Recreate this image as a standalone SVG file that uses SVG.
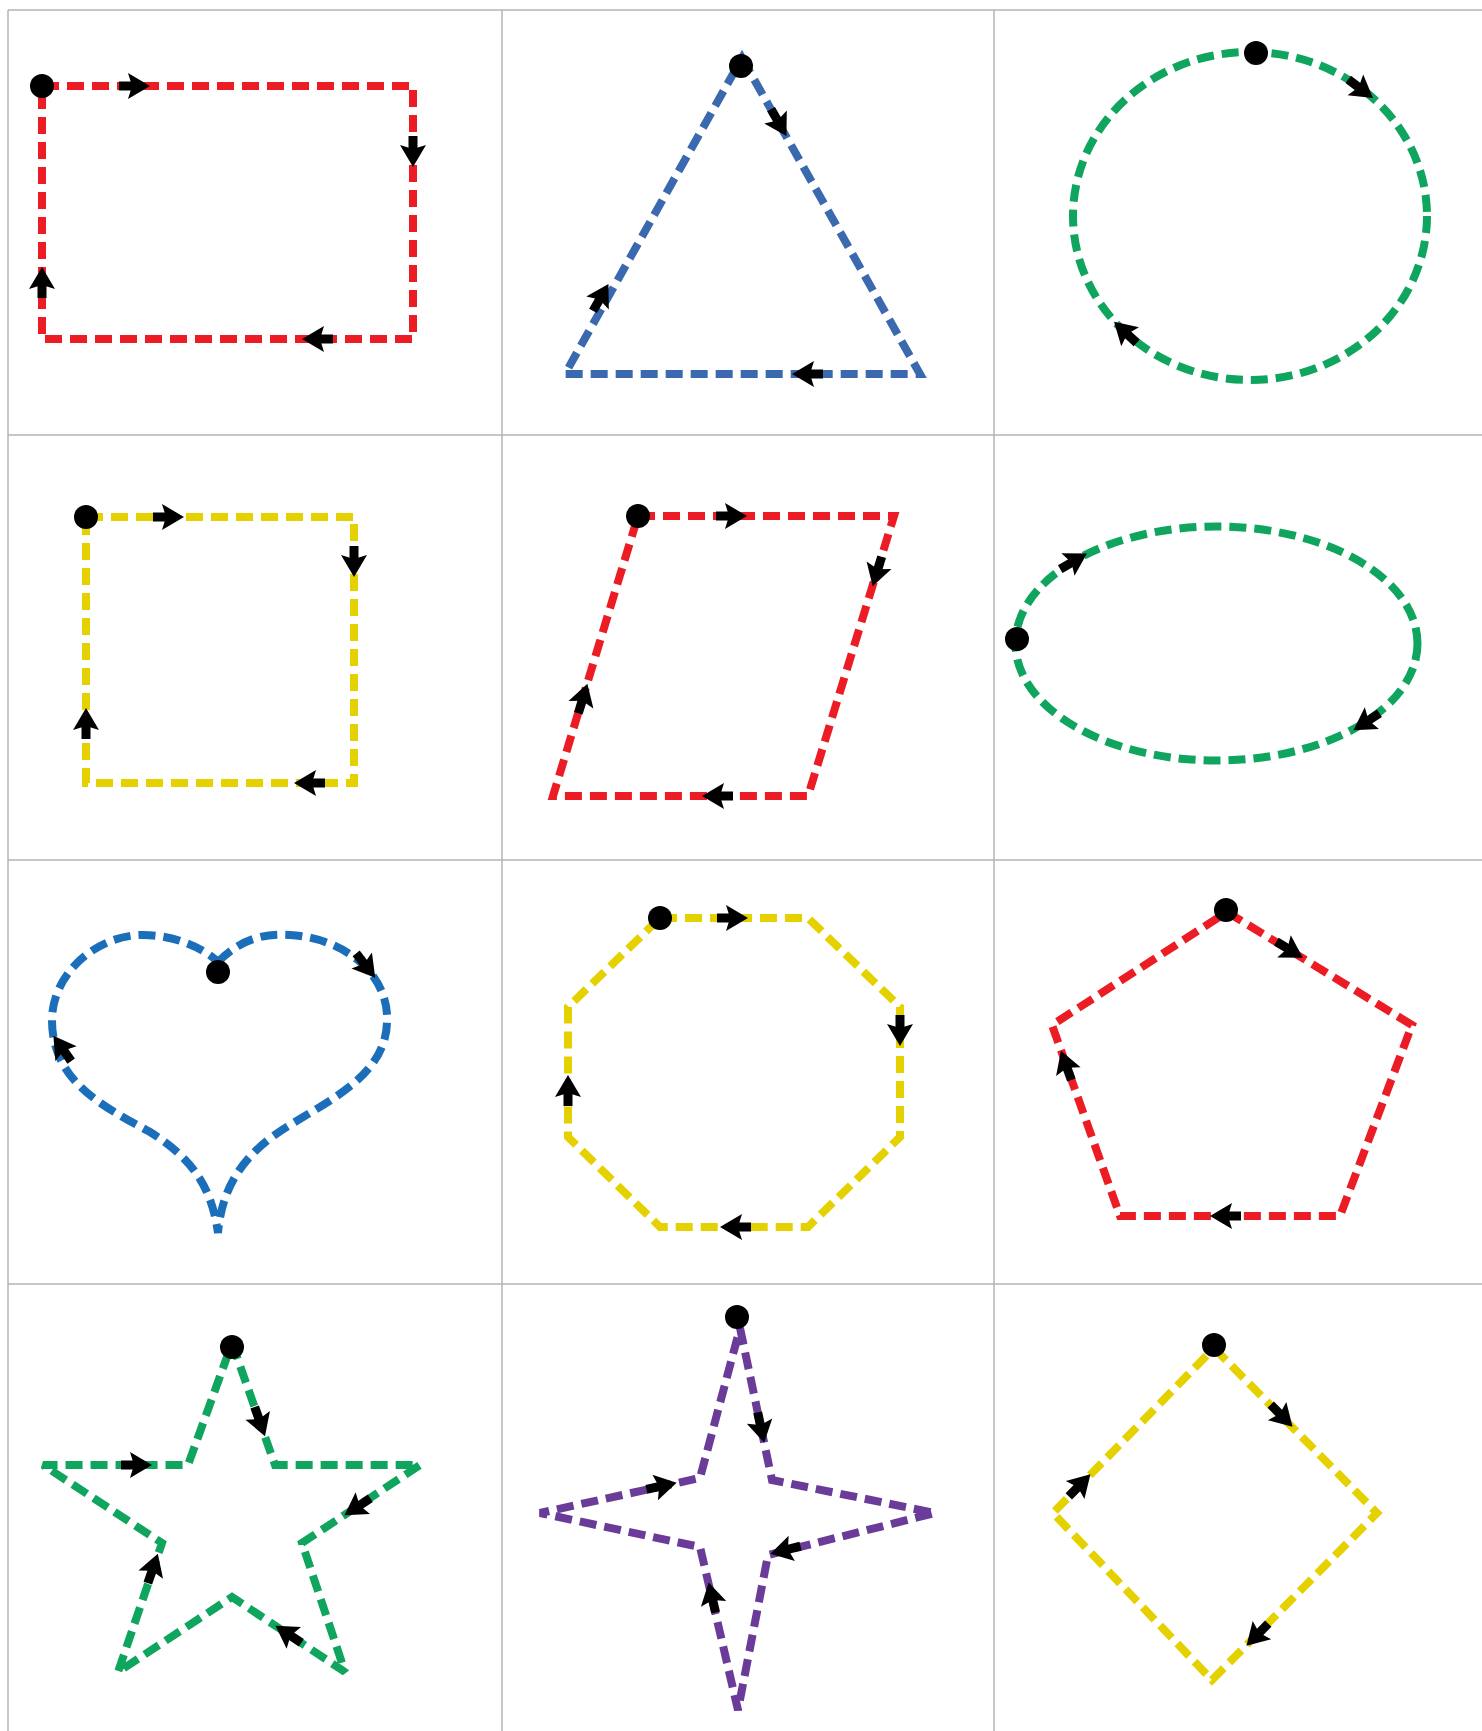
<svg xmlns="http://www.w3.org/2000/svg" xmlns:xlink="http://www.w3.org/1999/xlink" width="1482" height="1731" viewBox="0 0 1482 1731">
<style>
.grid{stroke:#b4b4b4;stroke-width:1.5;fill:none}
.sh{fill:none;stroke-width:8;stroke-dasharray:17 8;stroke-linejoin:miter;stroke-miterlimit:2.2}
.red{stroke:#ec1c24}
.yel{stroke:#e5d100}
.grn{stroke:#0fa55e}
.blu{stroke:#3b69b0}
.hbl{stroke:#1b6eb9}
.pur{stroke:#6a3b98}
.dot{fill:#000}
</style>
<defs>
<g id="arr">
<rect x="-16" y="-4.5" width="14" height="9" fill="#000"/>
<path d="M15,0 L-7,-13 L-3,0 L-7,13 Z" fill="#000"/>
</g>
</defs>
<rect width="1482" height="1731" fill="#fff"/>
<g id="grid">
<line class="grid" x1="8" y1="10" x2="8" y2="1731"/>
<line class="grid" x1="502" y1="10" x2="502" y2="1731"/>
<line class="grid" x1="994" y1="10" x2="994" y2="1731"/>
<line class="grid" x1="8" y1="10" x2="1482" y2="10"/>
<line class="grid" x1="8" y1="435" x2="1482" y2="435"/>
<line class="grid" x1="8" y1="860" x2="1482" y2="860"/>
<line class="grid" x1="8" y1="1284" x2="1482" y2="1284"/>
</g>
<g id="rectangle">
<path class="sh red" d="M42,86 H413 V339 H42 Z"/>
<use xlink:href="#arr" transform="translate(135,86)"/>
<use xlink:href="#arr" transform="translate(413,152) rotate(90)"/>
<use xlink:href="#arr" transform="translate(317,339) rotate(180)"/>
<use xlink:href="#arr" transform="translate(42,282) rotate(-90)"/>
<circle class="dot" cx="42" cy="86" r="12"/>
</g>
<g id="triangle">
<path class="sh blu" d="M742,58 L920,374 L565,374 Z"/>
<use xlink:href="#arr" transform="translate(779,123) rotate(60.2)"/>
<use xlink:href="#arr" transform="translate(807,374) rotate(180)"/>
<use xlink:href="#arr" transform="translate(601,297) rotate(-60.2)"/>
<circle class="dot" cx="741" cy="66" r="12"/>
</g>
<g id="circle">
<ellipse class="sh grn" cx="1250" cy="216" rx="177" ry="164"/>
<use xlink:href="#arr" transform="translate(1361,89) rotate(37)"/>
<use xlink:href="#arr" transform="translate(1125,332) rotate(-137)"/>
<circle class="dot" cx="1256" cy="53" r="12"/>
</g>
<g id="square">
<path class="sh yel" d="M86,517 H354 V783 H86 Z"/>
<use xlink:href="#arr" transform="translate(169,517)"/>
<use xlink:href="#arr" transform="translate(354,562) rotate(90)"/>
<use xlink:href="#arr" transform="translate(309,783) rotate(180)"/>
<use xlink:href="#arr" transform="translate(86,723) rotate(-90)"/>
<circle class="dot" cx="86" cy="517" r="12"/>
</g>
<g id="parallelogram">
<path class="sh red" d="M638,516 H894 L808,796 H553 Z"/>
<use xlink:href="#arr" transform="translate(732,516)"/>
<use xlink:href="#arr" transform="translate(877,572) rotate(107)"/>
<use xlink:href="#arr" transform="translate(717,796) rotate(180)"/>
<use xlink:href="#arr" transform="translate(583,698) rotate(-73)"/>
<circle class="dot" cx="638" cy="516" r="12"/>
</g>
<g id="ellipse">
<ellipse class="sh grn" cx="1216.5" cy="643.5" rx="201" ry="117"/>
<use xlink:href="#arr" transform="translate(1074,561) rotate(-30.4)"/>
<use xlink:href="#arr" transform="translate(1366,722) rotate(147)"/>
<circle class="dot" cx="1017" cy="639" r="12"/>
</g>
<g id="heart">
<path class="sh hbl" d="M218,962 C240,940 262,933 290,935 C345,938 390,975 387,1023 C385,1075 330,1100 290,1125 C245,1152 222,1185 218,1233 C212,1190 195,1160 150,1132 C100,1105 52,1080 52,1020 C52,975 95,935 143,935 C170,935 200,945 218,962 Z"/>
<use xlink:href="#arr" transform="translate(366,966) rotate(52)"/>
<use xlink:href="#arr" transform="translate(62,1048) rotate(-125)"/>
<circle class="dot" cx="218" cy="972" r="12"/>
</g>
<g id="octagon">
<path class="sh yel" d="M660,918 H808 L900,1007 V1137 L808,1227 H660 L568,1137 V1007 Z"/>
<use xlink:href="#arr" transform="translate(733,918)"/>
<use xlink:href="#arr" transform="translate(900,1031) rotate(90)"/>
<use xlink:href="#arr" transform="translate(735,1227) rotate(180)"/>
<use xlink:href="#arr" transform="translate(568,1090) rotate(-90)"/>
<circle class="dot" cx="660" cy="918" r="12"/>
</g>
<g id="pentagon">
<path class="sh red" d="M1227,912 L1412,1025 L1340,1216 H1120 L1052,1025 Z"/>
<use xlink:href="#arr" transform="translate(1290,950) rotate(31.3)"/>
<use xlink:href="#arr" transform="translate(1225,1216) rotate(180)"/>
<use xlink:href="#arr" transform="translate(1066,1065) rotate(-109.6)"/>
<circle class="dot" cx="1226" cy="910" r="12"/>
</g>
<g id="star">
<path class="sh grn" d="M232,1343 L275,1465 H420 L302,1543 L345,1672 L232,1597 L118,1672 L162,1543 L43,1465 H188 Z"/>
<use xlink:href="#arr" transform="translate(260,1422) rotate(70.6)"/>
<use xlink:href="#arr" transform="translate(357,1507) rotate(146.5)"/>
<use xlink:href="#arr" transform="translate(288,1634) rotate(-146.4)"/>
<use xlink:href="#arr" transform="translate(153,1568) rotate(-71.2)"/>
<use xlink:href="#arr" transform="translate(137,1465)"/>
<circle class="dot" cx="232" cy="1347" r="12"/>
</g>
<g id="four-point-star">
<path class="sh pur" d="M740,1328 L772,1480 L935,1513 L768,1555 L738,1710 L700,1547 L540,1513 L700,1478 Z"/>
<use xlink:href="#arr" transform="translate(761,1428) rotate(78)"/>
<use xlink:href="#arr" transform="translate(785,1550) rotate(166)"/>
<use xlink:href="#arr" transform="translate(712,1597) rotate(-103)"/>
<use xlink:href="#arr" transform="translate(662,1486) rotate(-12.3)"/>
<circle class="dot" cx="737" cy="1317" r="12"/>
</g>
<g id="diamond">
<path class="sh yel" d="M1214,1348 L1377,1513 L1212,1680 L1053,1513 Z"/>
<use xlink:href="#arr" transform="translate(1282,1416) rotate(45.3)"/>
<use xlink:href="#arr" transform="translate(1257,1635) rotate(134.7)"/>
<use xlink:href="#arr" transform="translate(1080,1485) rotate(-45.7)"/>
<circle class="dot" cx="1214" cy="1345" r="12"/>
</g>
</svg>
